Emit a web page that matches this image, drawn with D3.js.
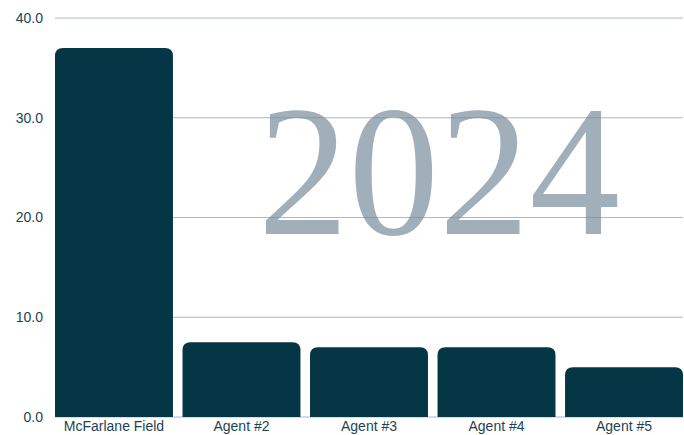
<!DOCTYPE html>
<html>
<head>
<meta charset="utf-8">
<script src="https://cdn.jsdelivr.net/npm/d3@7"></script>
<style>
  body { margin: 0; background: #fff; }
  svg { display: block; }
</style>
</head>
<body>
<script>
const categories = ['McFarlane Field', 'Agent #2', 'Agent #3', 'Agent #4', 'Agent #5'];
const values = [37.0, 7.5, 7.0, 7.0, 5.0];
const yTicks = [0, 10, 20, 30, 40];
const watermark = '2024';

const svgWidth = 684;
const svgHeight = 435;
const margin = {top: 18, right: 1, bottom: 18, left: 55};
const chartWidth = svgWidth - margin.left - margin.right;
const chartHeight = svgHeight - margin.top - margin.bottom;

const svg = d3.select('body').append('svg')
    .attr('width', svgWidth)
    .attr('height', svgHeight);

const g = svg.append('g')
    .attr('transform', `translate(${margin.left}, ${margin.top})`);

const scaleX = d3.scaleBand()
    .domain(categories)
    .range([0, chartWidth])
    .paddingInner(0.075)
    .paddingOuter(0);

const scaleY = d3.scaleLinear()
    .domain([0, 40])
    .range([chartHeight, 0]);

// gridlines
g.selectAll('line.grid')
    .data(yTicks)
    .join('line')
    .attr('class', 'grid')
    .attr('x1', 0)
    .attr('x2', chartWidth)
    .attr('y1', d => scaleY(d))
    .attr('y2', d => scaleY(d))
    .attr('stroke', '#a9bac6')
    .attr('stroke-width', 1);

// y labels
g.selectAll('text.ylab')
    .data(yTicks)
    .join('text')
    .attr('class', 'ylab')
    .attr('x', -12)
    .attr('y', d => scaleY(d))
    .attr('dy', '0.35em')
    .attr('text-anchor', 'end')
    .attr('font-family', 'Liberation Sans, Arial, sans-serif')
    .attr('font-size', 14)
    .attr('fill', '#1d4352')
    .text(d => d3.format('.1f')(d));

// watermark year, semi-transparent over the grid
g.append('text')
    .attr('x', 258 - margin.left)
    .attr('y', 234 - margin.top)
    .attr('textLength', 362)
    .attr('lengthAdjust', 'spacingAndGlyphs')
    .attr('font-family', 'Liberation Serif, DejaVu Serif, serif')
    .attr('font-size', 186)
    .attr('fill', '#73899a')
    .attr('fill-opacity', 0.68)
    .text(watermark);

// bars with rounded tops
const r = 8;
const barPath = d => {
    const x0 = scaleX(d.cat), w = scaleX.bandwidth();
    const y0 = scaleY(d.val), y1 = scaleY(0);
    return `M${x0},${y1} V${y0 + r} Q${x0},${y0} ${x0 + r},${y0} H${x0 + w - r} Q${x0 + w},${y0} ${x0 + w},${y0 + r} V${y1} Z`;
};

const data = categories.map((c, i) => ({cat: c, val: values[i]}));

g.selectAll('path.bar')
    .data(data)
    .join('path')
    .attr('class', 'bar')
    .attr('d', barPath)
    .attr('fill', '#053645');

// x labels
g.selectAll('text.xlab')
    .data(categories)
    .join('text')
    .attr('class', 'xlab')
    .attr('x', d => scaleX(d) + scaleX.bandwidth() / 2)
    .attr('y', chartHeight + 14)
    .attr('text-anchor', 'middle')
    .attr('font-family', 'Liberation Sans, Arial, sans-serif')
    .attr('font-size', 14)
    .attr('fill', '#1d4352')
    .text(d => d);
</script>
</body>
</html>
